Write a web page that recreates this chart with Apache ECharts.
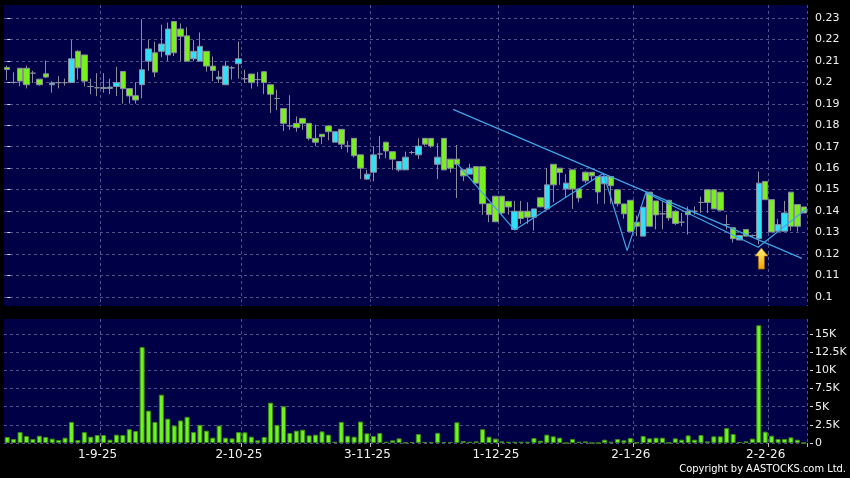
<!DOCTYPE html>
<html>
<head>
<meta charset="utf-8">
<script src="https://cdn.jsdelivr.net/npm/echarts@6/dist/echarts.min.js"></script>
<style>
  html, body { margin: 0; padding: 0; background: #000; }
  #chart { width: 850px; height: 478px; }
</style>
</head>
<body>
<div id="chart"></div>
<script>
// HK trading days shown: 11-8-25 .. 9-2-26 (125 sessions)
const holidays = ['2025-10-01', '2025-10-07', '2025-10-29', '2025-12-25', '2025-12-26', '2026-01-01'];
const tickDates = ['1-9-25', '2-10-25', '3-11-25', '1-12-25', '2-1-26', '2-2-26'];

const priceTicks = [0.1, 0.11, 0.12, 0.13, 0.14, 0.15, 0.16, 0.17, 0.18, 0.19, 0.2, 0.21, 0.22, 0.23];
const volTicks = [0, 2.5, 5, 7.5, 10, 12.5, 15];

const open = [
  0.207, 0.200, 0.2066, 0.2066, 0.2043, 0.2015, 0.2040, 0.1989, 0.1999, 0.1999,
  0.1999, 0.2145, 0.2128, 0.1981, 0.1975, 0.1976, 0.1972, 0.1981, 0.2051, 0.1971,
  0.1938, 0.1989, 0.2099, 0.2138, 0.2145, 0.2128, 0.2284, 0.2249, 0.2217, 0.2110,
  0.2099, 0.2145, 0.2076, 0.2016, 0.1989, 0.2068, 0.2087, 0.2017, 0.2039, 0.2013,
  0.2050, 0.1989, 0.1925, 0.1878, 0.1797, 0.1809, 0.1832, 0.1809, 0.1739, 0.1758,
  0.1797, 0.1721, 0.1781, 0.1703, 0.1739, 0.1662, 0.1549, 0.1581, 0.1666, 0.1721,
  0.1677, 0.1592, 0.1592, 0.1673, 0.1662, 0.1739, 0.1739, 0.1618, 0.1739, 0.1642,
  0.1642, 0.1592, 0.1572, 0.1607, 0.1607, 0.1434, 0.1469, 0.1469, 0.1445, 0.1314,
  0.1399, 0.1399, 0.1371, 0.1462, 0.1410, 0.1618, 0.1600, 0.1503, 0.1592, 0.1503,
  0.1581, 0.1581, 0.1561, 0.1527, 0.1561, 0.1499, 0.1433, 0.1450, 0.1348, 0.1283,
  0.1488, 0.1447, 0.1387, 0.1450, 0.1399, 0.1348, 0.1399, 0.1399, 0.1440, 0.1499,
  0.1499, 0.1488, 0.1337, 0.1322, 0.1265, 0.1314, 0.1286, 0.1271, 0.1538, 0.1453,
  0.1306, 0.1306, 0.1488, 0.1430, 0.1419
];
const close = [
  0.206, 0.200, 0.2006, 0.1989, 0.2043, 0.1989, 0.2025, 0.1997, 0.1999, 0.1999,
  0.2110, 0.2068, 0.2006, 0.1981, 0.1975, 0.1972, 0.1978, 0.1999, 0.1971, 0.1937,
  0.1918, 0.2059, 0.2156, 0.2048, 0.2179, 0.2249, 0.2138, 0.2215, 0.2099, 0.2145,
  0.2168, 0.2076, 0.2056, 0.2025, 0.2076, 0.2068, 0.2110, 0.2017, 0.1999, 0.2013,
  0.1999, 0.1945, 0.1925, 0.1809, 0.1797, 0.1789, 0.1809, 0.1739, 0.1721, 0.1747,
  0.1770, 0.1770, 0.1712, 0.1703, 0.1658, 0.1600, 0.1572, 0.1662, 0.1666, 0.1680,
  0.1642, 0.1631, 0.1651, 0.1673, 0.1703, 0.1712, 0.1703, 0.1651, 0.1592, 0.1600,
  0.1618, 0.1564, 0.1600, 0.1530, 0.1434, 0.1383, 0.1350, 0.1391, 0.1419, 0.1399,
  0.1365, 0.1371, 0.1410, 0.1419, 0.1522, 0.1522, 0.1580, 0.1530, 0.1503, 0.1461,
  0.1541, 0.1564, 0.1489, 0.1561, 0.1518, 0.1434, 0.1387, 0.1304, 0.1329, 0.1418,
  0.1329, 0.1382, 0.1387, 0.1368, 0.1342, 0.1348, 0.1383, 0.1399, 0.1440, 0.1440,
  0.1410, 0.1404, 0.1337, 0.1271, 0.1286, 0.1283, 0.1286, 0.1530, 0.1453, 0.1302,
  0.1337, 0.1391, 0.1329, 0.1329, 0.1391
];
const low = [
  0.201, 0.1994, 0.1982, 0.1972, 0.1997, 0.1985, 0.2020, 0.1952, 0.1972, 0.1985,
  0.1999, 0.2013, 0.1981, 0.1945, 0.1936, 0.1952, 0.1945, 0.1936, 0.1901, 0.1901,
  0.1901, 0.1925, 0.2054, 0.2025, 0.2117, 0.2099, 0.2123, 0.2099, 0.2099, 0.2099,
  0.2099, 0.2050, 0.2006, 0.1997, 0.1989, 0.2013, 0.2017, 0.1997, 0.1971, 0.1981,
  0.1945, 0.1858, 0.1870, 0.1773, 0.1779, 0.1770, 0.1779, 0.1730, 0.1702, 0.1712,
  0.1730, 0.1721, 0.1688, 0.1673, 0.1650, 0.1549, 0.1545, 0.1538, 0.1642, 0.1646,
  0.1592, 0.1584, 0.1592, 0.1665, 0.1642, 0.1705, 0.1695, 0.1549, 0.1592, 0.1579,
  0.1461, 0.1540, 0.1572, 0.1530, 0.1383, 0.1348, 0.1350, 0.1380, 0.1383, 0.1314,
  0.1340, 0.1340, 0.1309, 0.1419, 0.1410, 0.1441, 0.1522, 0.1464, 0.1410, 0.1441,
  0.1530, 0.1540, 0.1434, 0.1434, 0.1434, 0.1421, 0.1364, 0.1304, 0.1283, 0.1283,
  0.1329, 0.1314, 0.1314, 0.1355, 0.1335, 0.1329, 0.1290, 0.1383, 0.1391, 0.1391,
  0.1410, 0.1404, 0.1314, 0.1253, 0.1265, 0.1283, 0.1280, 0.1244, 0.1453, 0.1302,
  0.1306, 0.1306, 0.1308, 0.1304, 0.1391
];
const high = [
  0.2078, 0.2047, 0.2066, 0.2078, 0.2054, 0.2015, 0.2102, 0.2006, 0.2029, 0.2018,
  0.2198, 0.2150, 0.2128, 0.2017, 0.2043, 0.2043, 0.2017, 0.2073, 0.2051, 0.1971,
  0.2001, 0.2295, 0.2198, 0.2190, 0.2269, 0.2279, 0.2284, 0.2275, 0.2257, 0.2198,
  0.2233, 0.2145, 0.2121, 0.2054, 0.2099, 0.2076, 0.2191, 0.2059, 0.2039, 0.2048,
  0.2050, 0.1989, 0.1966, 0.1878, 0.1940, 0.1841, 0.1832, 0.1809, 0.1802, 0.1758,
  0.1797, 0.1770, 0.1781, 0.1727, 0.1739, 0.1662, 0.1592, 0.1703, 0.1750, 0.1721,
  0.1677, 0.1631, 0.1677, 0.1680, 0.1739, 0.1739, 0.1739, 0.1716, 0.1739, 0.1642,
  0.1708, 0.1592, 0.1621, 0.1607, 0.1607, 0.1434, 0.1469, 0.1469, 0.1445, 0.1447,
  0.1447, 0.1441, 0.1410, 0.1462, 0.1600, 0.1618, 0.1600, 0.1572, 0.1592, 0.1503,
  0.1585, 0.1581, 0.1561, 0.1561, 0.1561, 0.1499, 0.1433, 0.1450, 0.1379, 0.1418,
  0.1488, 0.1447, 0.1447, 0.1450, 0.1405, 0.1391, 0.1421, 0.1421, 0.1467, 0.1499,
  0.1499, 0.1488, 0.1383, 0.1322, 0.1286, 0.1314, 0.1290, 0.1584, 0.1538, 0.1453,
  0.1364, 0.1447, 0.1488, 0.1430, 0.1419
];
// volume, thousands of shares
const volume = [
  0.83, 0.55, 1.5, 0.96, 0.55, 1.0, 0.83, 0.6, 0.41, 0.73,
  2.9, 0.41, 1.5, 0.87, 1.1, 1.1, 0.46, 1.15, 1.1, 1.9,
  1.65, 13.2, 4.45, 2.9, 6.65, 3.35, 2.4, 3.1, 3.6, 1.5,
  2.5, 1.7, 0.73, 2.4, 0.73, 0.64, 1.5, 1.47, 0.87, 0.37,
  0.83, 5.55, 2.48, 5.05, 1.38, 1.7, 1.83, 1.05, 1.15, 1.6,
  1.15, 0.18, 2.9, 1.0, 0.87, 2.95, 1.33, 0.96, 1.38, 0.18,
  0.37, 0.64, 0.05, 0.14, 1.24, 0.14, 0.14, 1.4, 0.14, 0.14,
  2.85, 0.27, 0.18, 0.23, 1.9, 0.87, 0.6, 0.23, 0.18, 0.18,
  0.18, 0.18, 0.69, 0.32, 1.15, 0.92, 0.73, 0, 0.55, 0.18,
  0.23, 0, 0, 0.46, 0.18, 0.55, 0.37, 0.69, 0.05, 0.96,
  0.64, 0.73, 0.73, 0.05, 0.64, 0.46, 1.05, 0.46, 1.1, 0.23,
  0.92, 0.92, 2.05, 1.24, 0.14, 0.23, 0.6, 16.2, 1.56, 1.0,
  0.55, 0.55, 0.78, 0.46, 0
];

// drawn lines, [session index, price]
const trendLine = [[69.4, 0.1874], [123.7, 0.1179]];
const swingLine = [[70, 0.1622], [79, 0.1311], [92.8, 0.1576], [96.5, 0.1215], [99.4, 0.1485], [116.9, 0.1231], [124.5, 0.1412]];
const arrowAt = [[117.4, 0.1227]];

function buildDates() {
  const out = [];
  const d = new Date(2025, 7, 11);
  while (out.length < open.length) {
    const y = d.getFullYear(), m = d.getMonth() + 1, day = d.getDate();
    const key = y + '-' + String(m).padStart(2, '0') + '-' + String(day).padStart(2, '0');
    const wd = d.getDay();
    if (wd !== 0 && wd !== 6 && holidays.indexOf(key) < 0) {
      out.push(day + '-' + m + '-' + String(y).slice(2));
    }
    d.setDate(d.getDate() + 1);
  }
  return out;
}
const dates = buildDates();

const candles = open.map((o, i) => [o, close[i], low[i], high[i]]);
const isTick = (idx, val) => tickDates.indexOf(val) >= 0;

const gridLine = { color: '#50508a', width: 1, type: [3, 3] };
const labelFont = 'DejaVu Sans';

const chart = echarts.init(document.getElementById('chart'));
chart.setOption({
  animation: false,
  backgroundColor: '#000000',
  title: {
    text: 'Copyright by AASTOCKS.com Ltd.',
    right: 4,
    top: 464,
    padding: 0,
    textStyle: { color: '#ffffff', fontSize: 11, fontWeight: 'normal', fontFamily: '"DejaVu Sans Condensed", "DejaVu Sans"' }
  },
  grid: [
    { left: 4, top: 5, width: 803, height: 301, show: true, backgroundColor: '#000046', borderWidth: 0 },
    { left: 4, top: 319, width: 803, height: 124, show: true, backgroundColor: '#000046', borderWidth: 0 }
  ],
  xAxis: [
    {
      type: 'category', gridIndex: 0, data: dates, boundaryGap: true,
      axisLine: { show: false }, axisTick: { show: false }, axisLabel: { show: false },
      splitLine: { show: true, interval: isTick, lineStyle: gridLine }
    },
    {
      type: 'category', gridIndex: 1, data: dates, boundaryGap: true,
      axisLine: { show: false },
      axisTick: { show: true, interval: isTick, length: 4, lineStyle: { color: '#bbbbbb' } },
      axisLabel: { interval: isTick, color: '#f0f0f0', fontSize: 12, fontFamily: labelFont, margin: 6, padding: [0, 12, 0, 0] },
      splitLine: { show: true, interval: isTick, lineStyle: gridLine }
    },
    { type: 'value', gridIndex: 0, min: -0.5, max: open.length - 0.5, show: false }
  ],
  yAxis: [
    {
      type: 'value', gridIndex: 0, position: 'right', min: 0.0957, max: 0.2361, offset: 3,
      axisLine: { show: false },
      axisTick: { show: true, length: 3, customValues: priceTicks, lineStyle: { color: '#dddddd' } },
      axisLabel: { customValues: priceTicks, color: '#f0f0f0', fontSize: 11, fontFamily: labelFont, margin: 5,
        formatter: v => String(+(+v).toFixed(2)) },
      splitLine: { show: true, lineStyle: gridLine }
    },
    {
      type: 'value', gridIndex: 1, position: 'right', min: 0, max: 17.06, offset: 3,
      axisLine: { show: false },
      axisTick: { show: true, length: 3, customValues: volTicks, lineStyle: { color: '#dddddd' } },
      axisLabel: { customValues: volTicks, color: '#f0f0f0', fontSize: 11, fontFamily: labelFont, margin: 5,
        formatter: v => (+v === 0 ? '0' : (+v) + 'K') },
      splitLine: { show: true, lineStyle: gridLine }
    }
  ],
  series: [
    {
      name: 'price', type: 'candlestick', xAxisIndex: 0, yAxisIndex: 0,
      data: candles, barWidth: 6,
      itemStyle: {
        color: '#30e0f8', color0: '#78f020',
        borderColor: '#8c8c9c', borderColor0: '#8c8c9c', borderColorDoji: '#8c8c9c', borderWidth: 1
      }
    },
    {
      name: 'trend', type: 'line', xAxisIndex: 2, yAxisIndex: 0, data: trendLine,
      symbol: 'none', lineStyle: { color: '#3fa6e6', width: 1.2 }, z: 5
    },
    {
      name: 'swing', type: 'line', xAxisIndex: 2, yAxisIndex: 0, data: swingLine,
      symbol: 'none', lineStyle: { color: '#3fa6e6', width: 1.2 }, z: 5
    },
    {
      name: 'arrow', type: 'scatter', xAxisIndex: 2, yAxisIndex: 0, data: arrowAt,
      symbol: 'path://M6.5,0 L13,8 L9.5,8 L9.5,21 L3.5,21 L3.5,8 L0,8 Z',
      symbolSize: [13, 21], symbolOffset: [0, 10.5], z: 6,
      itemStyle: {
        opacity: 1, borderColor: '#a86a00', borderWidth: 0.6,
        color: { type: 'linear', x: 0, y: 0, x2: 0, y2: 1,
          colorStops: [{ offset: 0, color: '#fff27a' }, { offset: 1, color: '#f0a400' }] }
      }
    },
    {
      name: 'volume', type: 'bar', xAxisIndex: 1, yAxisIndex: 1, data: volume,
      barWidth: '78%',
      itemStyle: { color: '#6ef520', borderColor: '#3c8c14', borderWidth: 1 }
    }
  ]
});
</script>
</body>
</html>
